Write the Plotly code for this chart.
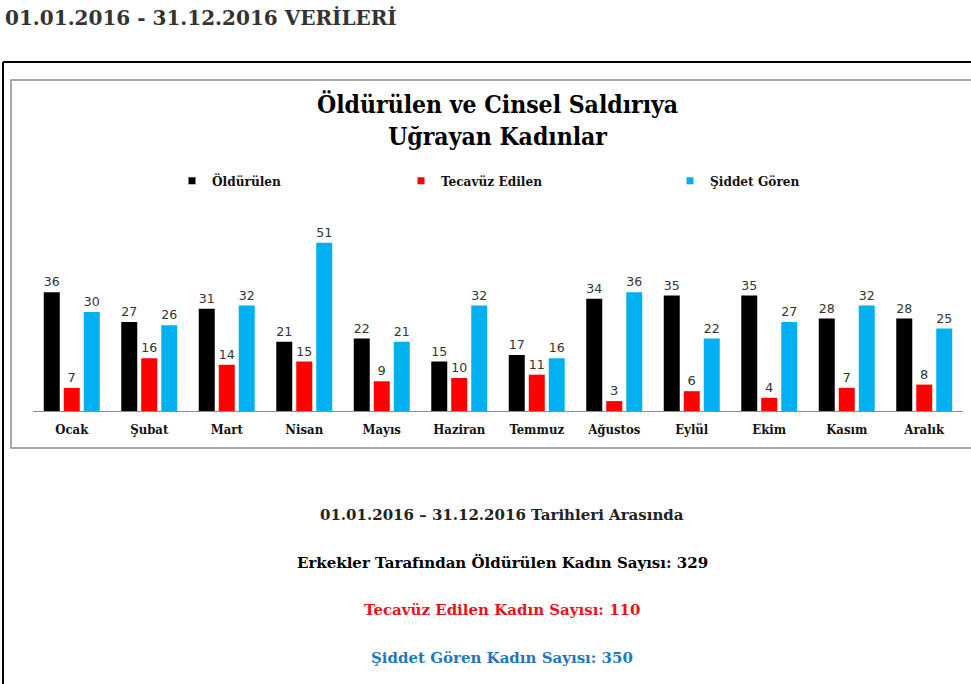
import plotly.graph_objects as go

months = ["Ocak", "Şubat", "Mart", "Nisan", "Mayıs", "Haziran", "Temmuz",
          "Ağustos", "Eylül", "Ekim", "Kasım", "Aralık"]
oldurulen = [36, 27, 31, 21, 22, 15, 17, 34, 35, 35, 28, 28]
tecavuz = [7, 16, 14, 15, 9, 10, 11, 3, 6, 4, 7, 8]
siddet = [30, 26, 32, 51, 21, 32, 16, 36, 22, 27, 32, 25]
series_names = ["Öldürülen", "Tecavüz Edilen", "Şiddet Gören"]
series_colors = ["#000000", "#ff0000", "#00b0f0"]

W, H = 971, 684
L, R, T, B = 33, 963, 230, 411  # plot area in px
SERIF = "DejaVu Serif Condensed, DejaVu Serif, serif"
SERIF_W = "DejaVu Serif, serif"
SANS = "DejaVu Sans, Verdana, sans-serif"

def px_x(p):
    return (p - L) / (R - L)

def px_y(p):
    return (B - p) / (B - T)

fig = go.Figure()
legends = ["legend", "legend2", "legend3"]
for vals, name, col in zip([oldurulen, tecavuz, siddet], series_names, series_colors):
    fig.add_trace(go.Bar(
        x=months, y=vals, name=name, marker=dict(color=col, line=dict(width=0)),
        text=vals, textposition="outside", cliponaxis=False,
        textfont=dict(family=SANS, size=13, color="#333333"),
        showlegend=False,
    ))
for name, col, lg in zip(series_names, series_colors, legends):
    fig.add_trace(go.Scatter(
        x=[months[0]], y=[None], mode="markers", name=name,
        marker=dict(symbol="square", size=7, color=col),
        legend=lg, showlegend=True,
    ))

legend_style = dict(orientation="h", yanchor="middle", xanchor="left",
                    bgcolor="rgba(0,0,0,0)", itemwidth=30,
                    font=dict(family=SERIF, size=13.5, color="#111111", weight="bold"))
legend_x = [172, 401, 670]
layout_legends = {}
for lg, lx in zip(legends, legend_x):
    layout_legends[lg] = dict(legend_style, x=px_x(lx), y=px_y(181))

max_y = (B - T) / 3.3
fig.update_layout(
    width=W, height=H,
    margin=dict(l=L, r=W - R, t=T, b=H - B, pad=0),
    paper_bgcolor="white", plot_bgcolor="white",
    barmode="group", bargap=0.226, bargroupgap=0.2,
    showlegend=True,
    xaxis=dict(showline=True, linecolor="#8c8c8c", linewidth=1, ticks="",
               showgrid=False, zeroline=False, ticklabelstandoff=6,
               range=[-0.5, 11.5], fixedrange=True,
               tickfont=dict(family=SERIF, size=13, color="#111111", weight="bold")),
    yaxis=dict(visible=False, range=[0, max_y], showgrid=False, zeroline=False),
    **layout_legends,
)

shapes = [
    # outer box (black)
    dict(type="line", xref="paper", yref="paper", x0=px_x(3), x1=px_x(3),
         y0=px_y(62), y1=px_y(690), line=dict(color="#000000", width=2)),
    dict(type="line", xref="paper", yref="paper", x0=px_x(3), x1=px_x(980),
         y0=px_y(62), y1=px_y(62), line=dict(color="#000000", width=2)),
    # inner chart box (gray)
    dict(type="rect", xref="paper", yref="paper", x0=px_x(11), x1=px_x(985),
         y0=px_y(448), y1=px_y(80), line=dict(color="#8c8c8c", width=1.5)),
]
fig.update_layout(shapes=shapes)

def ann(text, x, y, size, color, family=SERIF_W, xanchor="center"):
    return dict(text=text, x=px_x(x), y=px_y(y), xref="paper", yref="paper",
                xanchor=xanchor, yanchor="middle", showarrow=False,
                font=dict(family=family, size=size, color=color))

annotations = [
    ann("<b>01.01.2016 - 31.12.2016 VERİLERİ</b>", 3, 18, 20, "#333333", xanchor="left"),
    ann("<b>Öldürülen ve Cinsel Saldırıya<br>Uğrayan Kadınlar</b>", 497, 120, 24.5,
        "#000000", family=SERIF),
    ann("<b>01.01.2016 – 31.12.2016 Tarihleri Arasında</b>", 502, 515, 15, "#222222"),
    ann("<b>Erkekler Tarafından Öldürülen Kadın Sayısı: 329</b>", 502, 562, 15, "#000000"),
    ann("<b>Tecavüz Edilen Kadın Sayısı: 110</b>", 502, 610, 15, "#e8141c"),
    ann("<b>Şiddet Gören Kadın Sayısı: 350</b>", 502, 658, 15, "#1f78c0"),
]
fig.update_layout(annotations=annotations)

fig.write_html("out.html")
